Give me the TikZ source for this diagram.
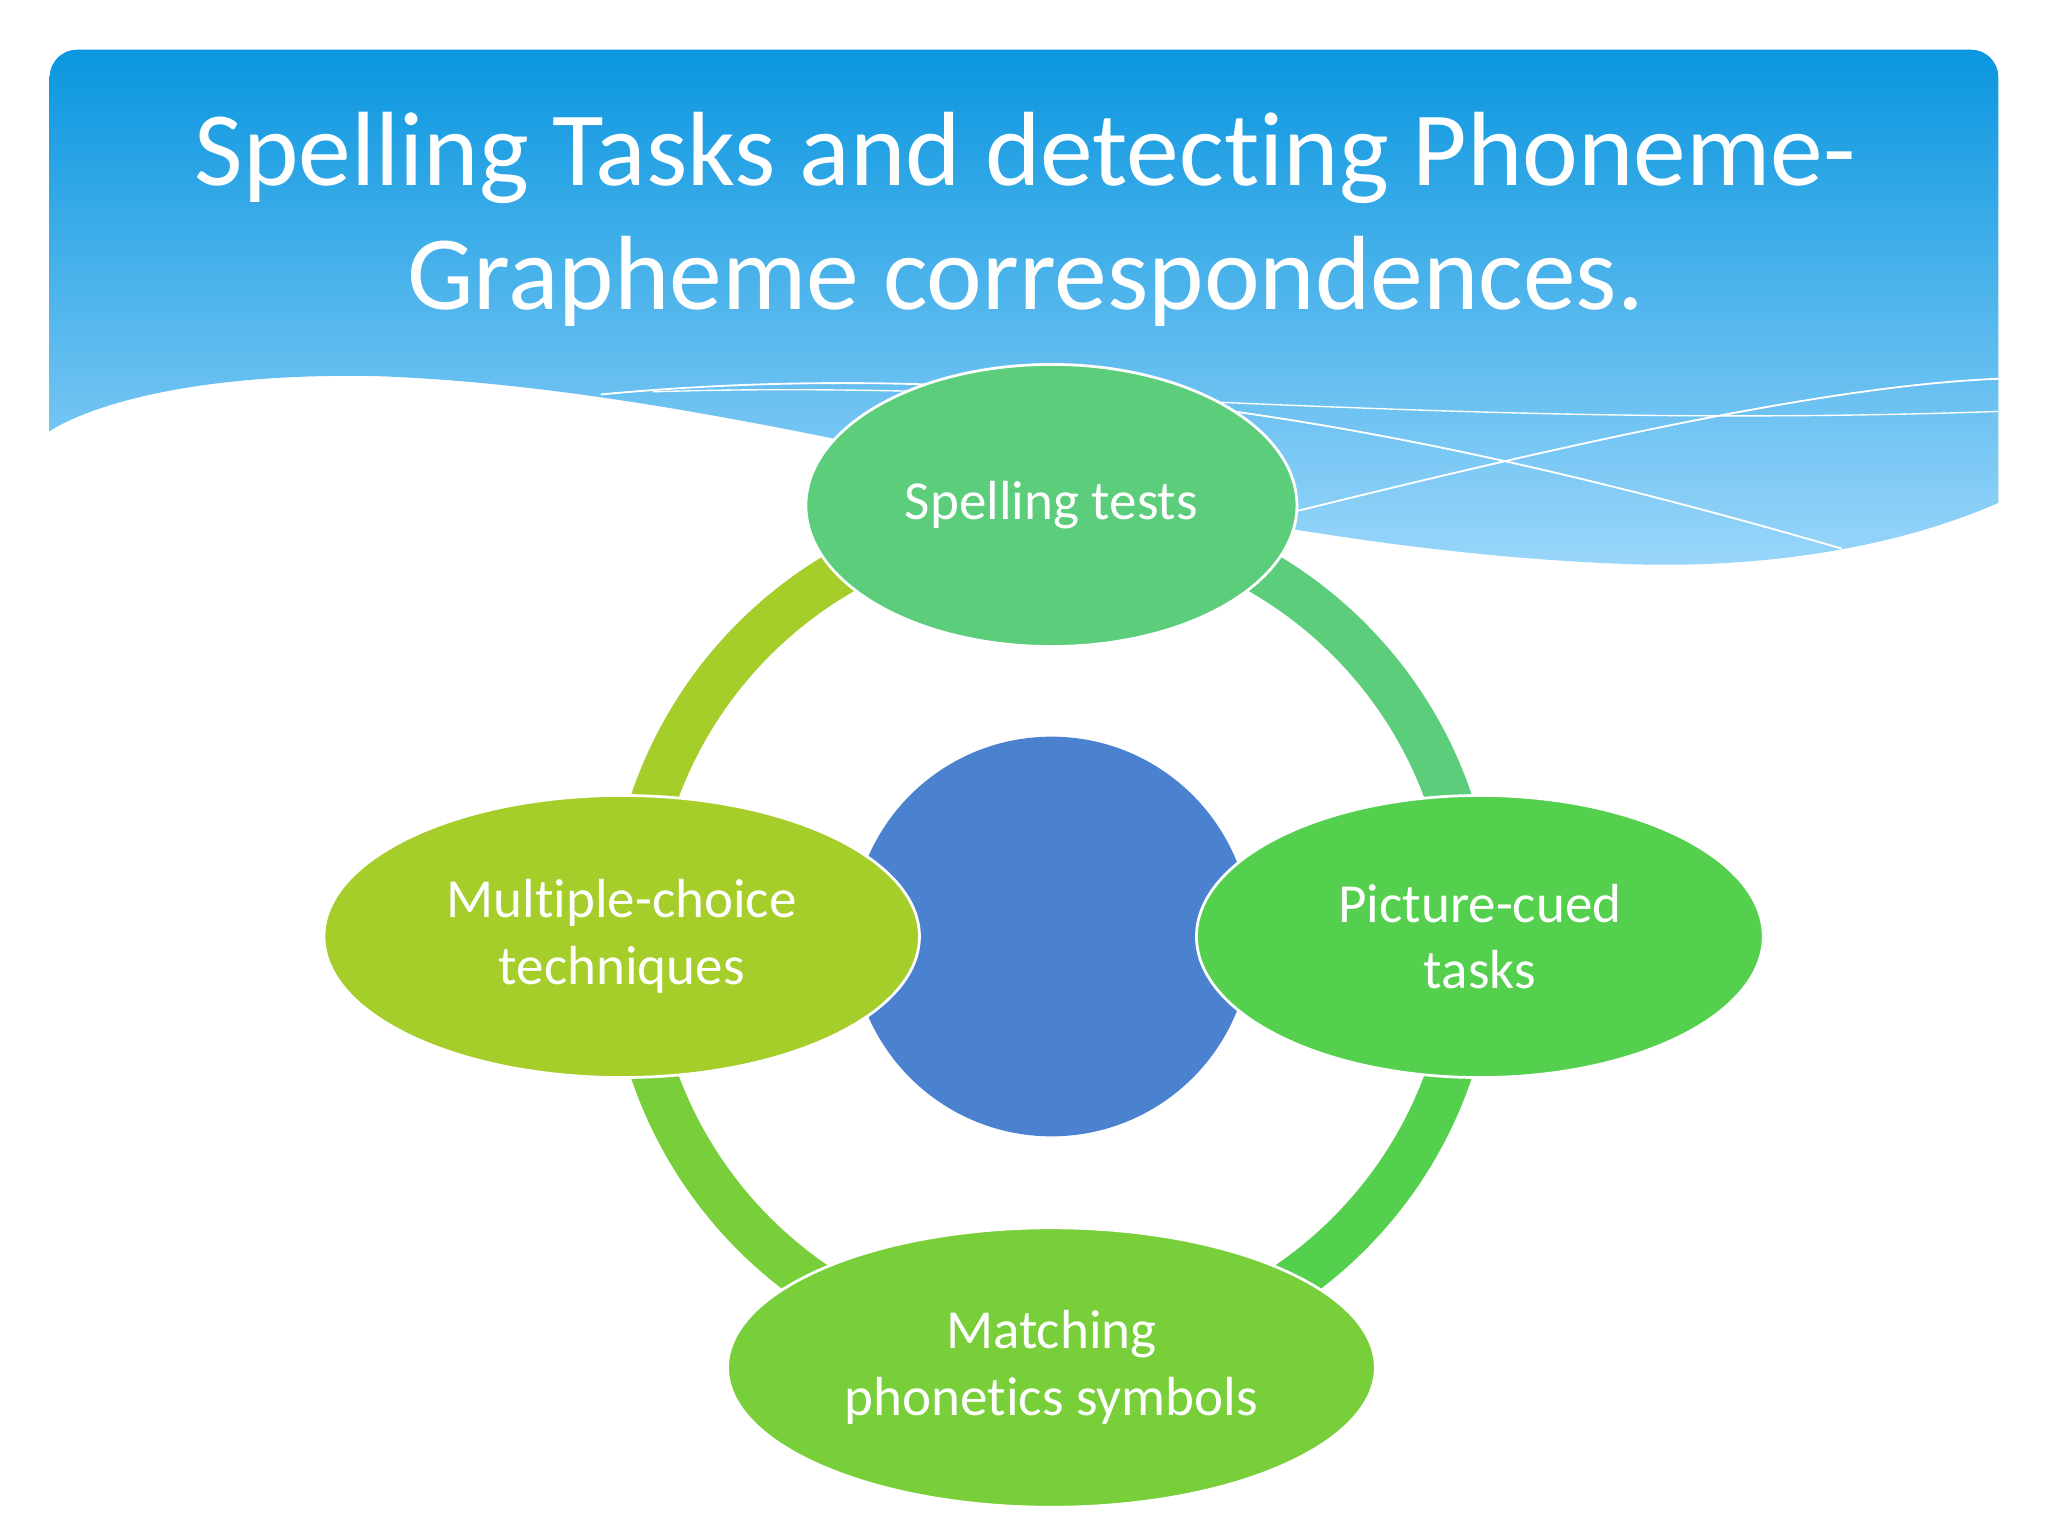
\documentclass[tikz,border=0pt]{standalone}
\usepackage{fontspec}
\setmainfont[Ligatures=NoCommon]{Carlito}
\usetikzlibrary{shapes.geometric}
\definecolor{hdtop}{HTML}{0A96DF}
\definecolor{hdbot}{HTML}{9AD6FA}
\definecolor{cA}{HTML}{5CCD7B}
\definecolor{cB}{HTML}{55CF4E}
\definecolor{cC}{HTML}{78CF3A}
\definecolor{cD}{HTML}{A5CE2A}
\definecolor{cCirc}{HTML}{4A82D0}
\tikzset{
 ell/.style={ellipse, draw=white, line width=1.2pt, text=white, align=center, font=\fontsize{24}{29}\selectfont, inner sep=0pt},
 ringseg/.style={line width=0.7cm}
}
\begin{document}
\begin{tikzpicture}[x=0.02cm,y=-0.02cm]
\useasboundingbox (0,0) rectangle (1568,1176);
\fill[white] (0,0) rectangle (1568,1176);
% header
\shade[top color=hdtop, bottom color=hdbot]
 (38,330) [rounded corners=12] -- (38,38) -- (1530,38) [sharp corners] -- (1530,385)
 .. controls (1450,420) and (1350,435) .. (1250,432)
 .. controls (900,420) and (600,300) .. (290,288)
 .. controls (150,285) and (70,310) .. (38,330) -- cycle;
\draw[white, line width=0.8pt] (460,302) .. controls (800,270) and (1100,330) .. (1410,420);
\draw[white, line width=0.8pt] (990,392) .. controls (1200,340) and (1400,295) .. (1530,290);
\draw[white, line width=0.6pt] (500,300) .. controls (800,290) and (1100,330) .. (1530,315);
\node[text=white, align=center, font=\fontsize{46}{54}\selectfont] (title) at (785,168) {Spelling Tasks and detecting Phoneme-\\Grapheme correspondences.};
% ring
\coordinate (c) at (805,717);
\draw[ringseg, cD] (c) ++(180:322) arc[start angle=180, end angle=270, radius=322];
\draw[ringseg, cA] (c) ++(270:322) arc[start angle=270, end angle=360, radius=322];
\draw[ringseg, cB] (c) ++(0:322) arc[start angle=0, end angle=90, radius=322];
\draw[ringseg, cC] (c) ++(90:322) arc[start angle=90, end angle=180, radius=322];
\fill[cCirc] (c) circle[radius=153];
\node[ell, fill=cA, minimum width=7.52cm, minimum height=4.32cm] (spell) at (805,387) {Spelling tests};
\node[ell, fill=cB, minimum width=8.68cm, minimum height=4.32cm] (pic) at (1133,717) {Picture-cued\\tasks};
\node[ell, fill=cC, minimum width=9.92cm, minimum height=4.28cm] (match) at (805,1047) {Matching\\phonetics symbols};
\node[ell, fill=cD, minimum width=9.12cm, minimum height=4.32cm] (mult) at (476,717) {Multiple-choice\\techniques};
\end{tikzpicture}
\end{document}
